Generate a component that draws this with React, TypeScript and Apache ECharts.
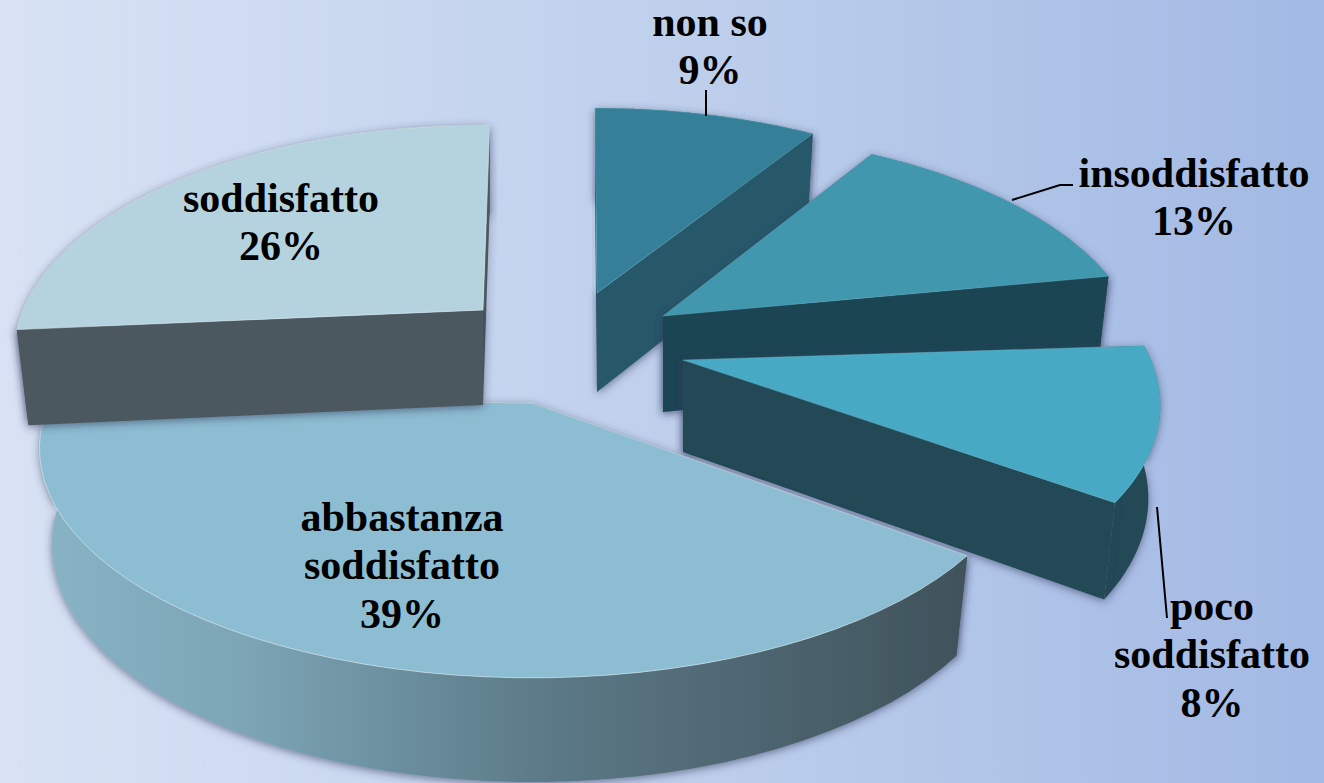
import React, { useEffect, useRef } from "react";
import * as echarts from "echarts";

const categories = ["non so", "insoddisfatto", "poco\nsoddisfatto", "abbastanza\nsoddisfatto", "soddisfatto"];
const percentLabels = ["9%", "13%", "8%", "39%", "26%"];
// Slice sizes as they appear in the picture
const shares = [9, 13, 10.5, 39, 26];

const topColors = ["#367f98", "#4097ae", "#47a9c4", "#8dbdd2", "#b5d3df"];
const sideColors = ["#25596b", "#1f4552", "#204854", "#3f525a", "#4c5860"];
const apexX = [597, 663, 683, 532, 483];
const apexY = [293, 316, 360, 403, 310];
const radiusX = [462, 470, 468, 483, 460];
const rotation = [-0.3, -2, 5, 7.5, 1];
const depths = [99, 96, 92, 95, 95];
const drawOrder = [0, 1, 2, 4, 3];
const labelX = [710, 1194, 1212, 402, 281];
const labelY = [46, 197, 654, 565, 222];

const RY = 221;
const P = 0.196;
const BOTTOM = 0.975;
const LINE_STEP = 48.5;
const FONT = '"Liberation Serif", serif';

function renderSlice(params: any, api: any) {
  const i = params.dataIndex;
  const total = shares.reduce((a, b) => a + b, 0);
  const before = shares.slice(0, i).reduce((a, b) => a + b, 0);
  const a0 = (before / total) * 360 + rotation[i];
  const a1 = ((before + api.value(0)) / total) * 360 + rotation[i];
  const ax = apexX[i];
  const ay = apexY[i];
  const depth = depths[i];
  const top = (deg: number) => {
    const t = (deg * Math.PI) / 180;
    const s = 1 / (1 + P * Math.cos(t));
    return { dx: radiusX[i] * Math.sin(t) * s, dy: -RY * Math.cos(t) * s, s };
  };
  const topPts: number[][] = [];
  const botPts: number[][] = [];
  const n = 48;
  for (let k = 0; k <= n; k++) {
    const p = top(a0 + ((a1 - a0) * k) / n);
    topPts.push([ax + p.dx, ay + p.dy]);
    botPts.push([ax + p.dx * BOTTOM, ay + p.dy + depth * (1 + (p.s - 1) * 0.4)]);
  }
  const apexT = [ax, ay];
  const apexB = [ax, ay + depth];
  const shadow = { shadowBlur: 8, shadowColor: "rgba(50,55,90,0.6)", shadowOffsetX: 0, shadowOffsetY: 2 };
  let rimFill: any = sideColors[i];
  if (i === 3) {
    rimFill = new echarts.graphic.LinearGradient(0, 0, 1, 0, [
      { offset: 0, color: "#88b4c6" },
      { offset: 0.22, color: "#7ca5b5" },
      { offset: 0.55, color: "#5b7986" },
      { offset: 1, color: "#3f525a" },
    ]);
  }
  const rim = { type: "polygon", shape: { points: [...topPts, ...botPts.slice().reverse()] }, style: { fill: rimFill, ...shadow } };
  const startFace = { type: "polygon", shape: { points: [apexT, topPts[0], botPts[0], apexB] }, style: { fill: sideColors[i], ...shadow } };
  const endFace = { type: "polygon", shape: { points: [apexT, topPts[n], botPts[n], apexB] }, style: { fill: sideColors[i], ...shadow } };
  const faces = [startFace, endFace, rim].sort((a: any, b: any) => {
    const my = (f: any) => f.shape.points.reduce((v: number, q: number[]) => v + q[1], 0) / f.shape.points.length;
    return my(a) - my(b);
  });
  const topFace = {
    type: "polygon",
    shape: { points: [apexT, ...topPts] },
    style: { fill: topColors[i], stroke: i > 2 ? "rgba(225,240,240,0.55)" : "rgba(120,190,205,0.35)", lineWidth: 1 },
  };
  return { type: "group", z2: drawOrder.indexOf(i), children: [...faces, topFace] };
}

function labelElements() {
  const texts = categories.flatMap((c, i) => {
    const lines = [...c.split("\n"), percentLabels[i]];
    return lines.map((text, k) => ({
      type: "text",
      x: labelX[i],
      y: labelY[i] + (k - (lines.length - 1) / 2) * LINE_STEP,
      z: 50,
      style: {
        text,
        fill: "#000",
        font: `bold 42px ${FONT}`,
        align: "center",
        verticalAlign: "middle",
      },
    }));
  });
  const line = (points: number[][]) => ({
    type: "polyline",
    z: 50,
    shape: { points },
    style: { stroke: "#000", lineWidth: 2, fill: "none" },
  });
  return [
    ...texts,
    line([[706, 90], [706, 116]]),
    line([[1012, 200], [1060, 185], [1073, 185]]),
    line([[1157, 507], [1167, 618]]),
  ];
}

export default function App() {
  const ref = useRef<HTMLDivElement>(null);
  useEffect(() => {
    document.body.style.margin = "0";
    const chart = echarts.init(ref.current!, undefined, { renderer: "svg" });
    chart.setOption({
      animation: false,
      backgroundColor: new echarts.graphic.LinearGradient(0, 0, 1, 0, [
        { offset: 0, color: "#d8e2f4" },
        { offset: 0.5, color: "#bfd0ec" },
        { offset: 1, color: "#a2b9e4" },
      ]),
      series: [
        {
          type: "custom",
          coordinateSystem: "none",
          renderItem: renderSlice,
          data: shares.map((v, i) => ({ name: categories[i], value: [v] })),
          silent: true,
        },
      ],
      graphic: labelElements(),
    });
    return () => chart.dispose();
  }, []);
  return <div ref={ref} style={{ width: 1324, height: 783 }} />;
}
